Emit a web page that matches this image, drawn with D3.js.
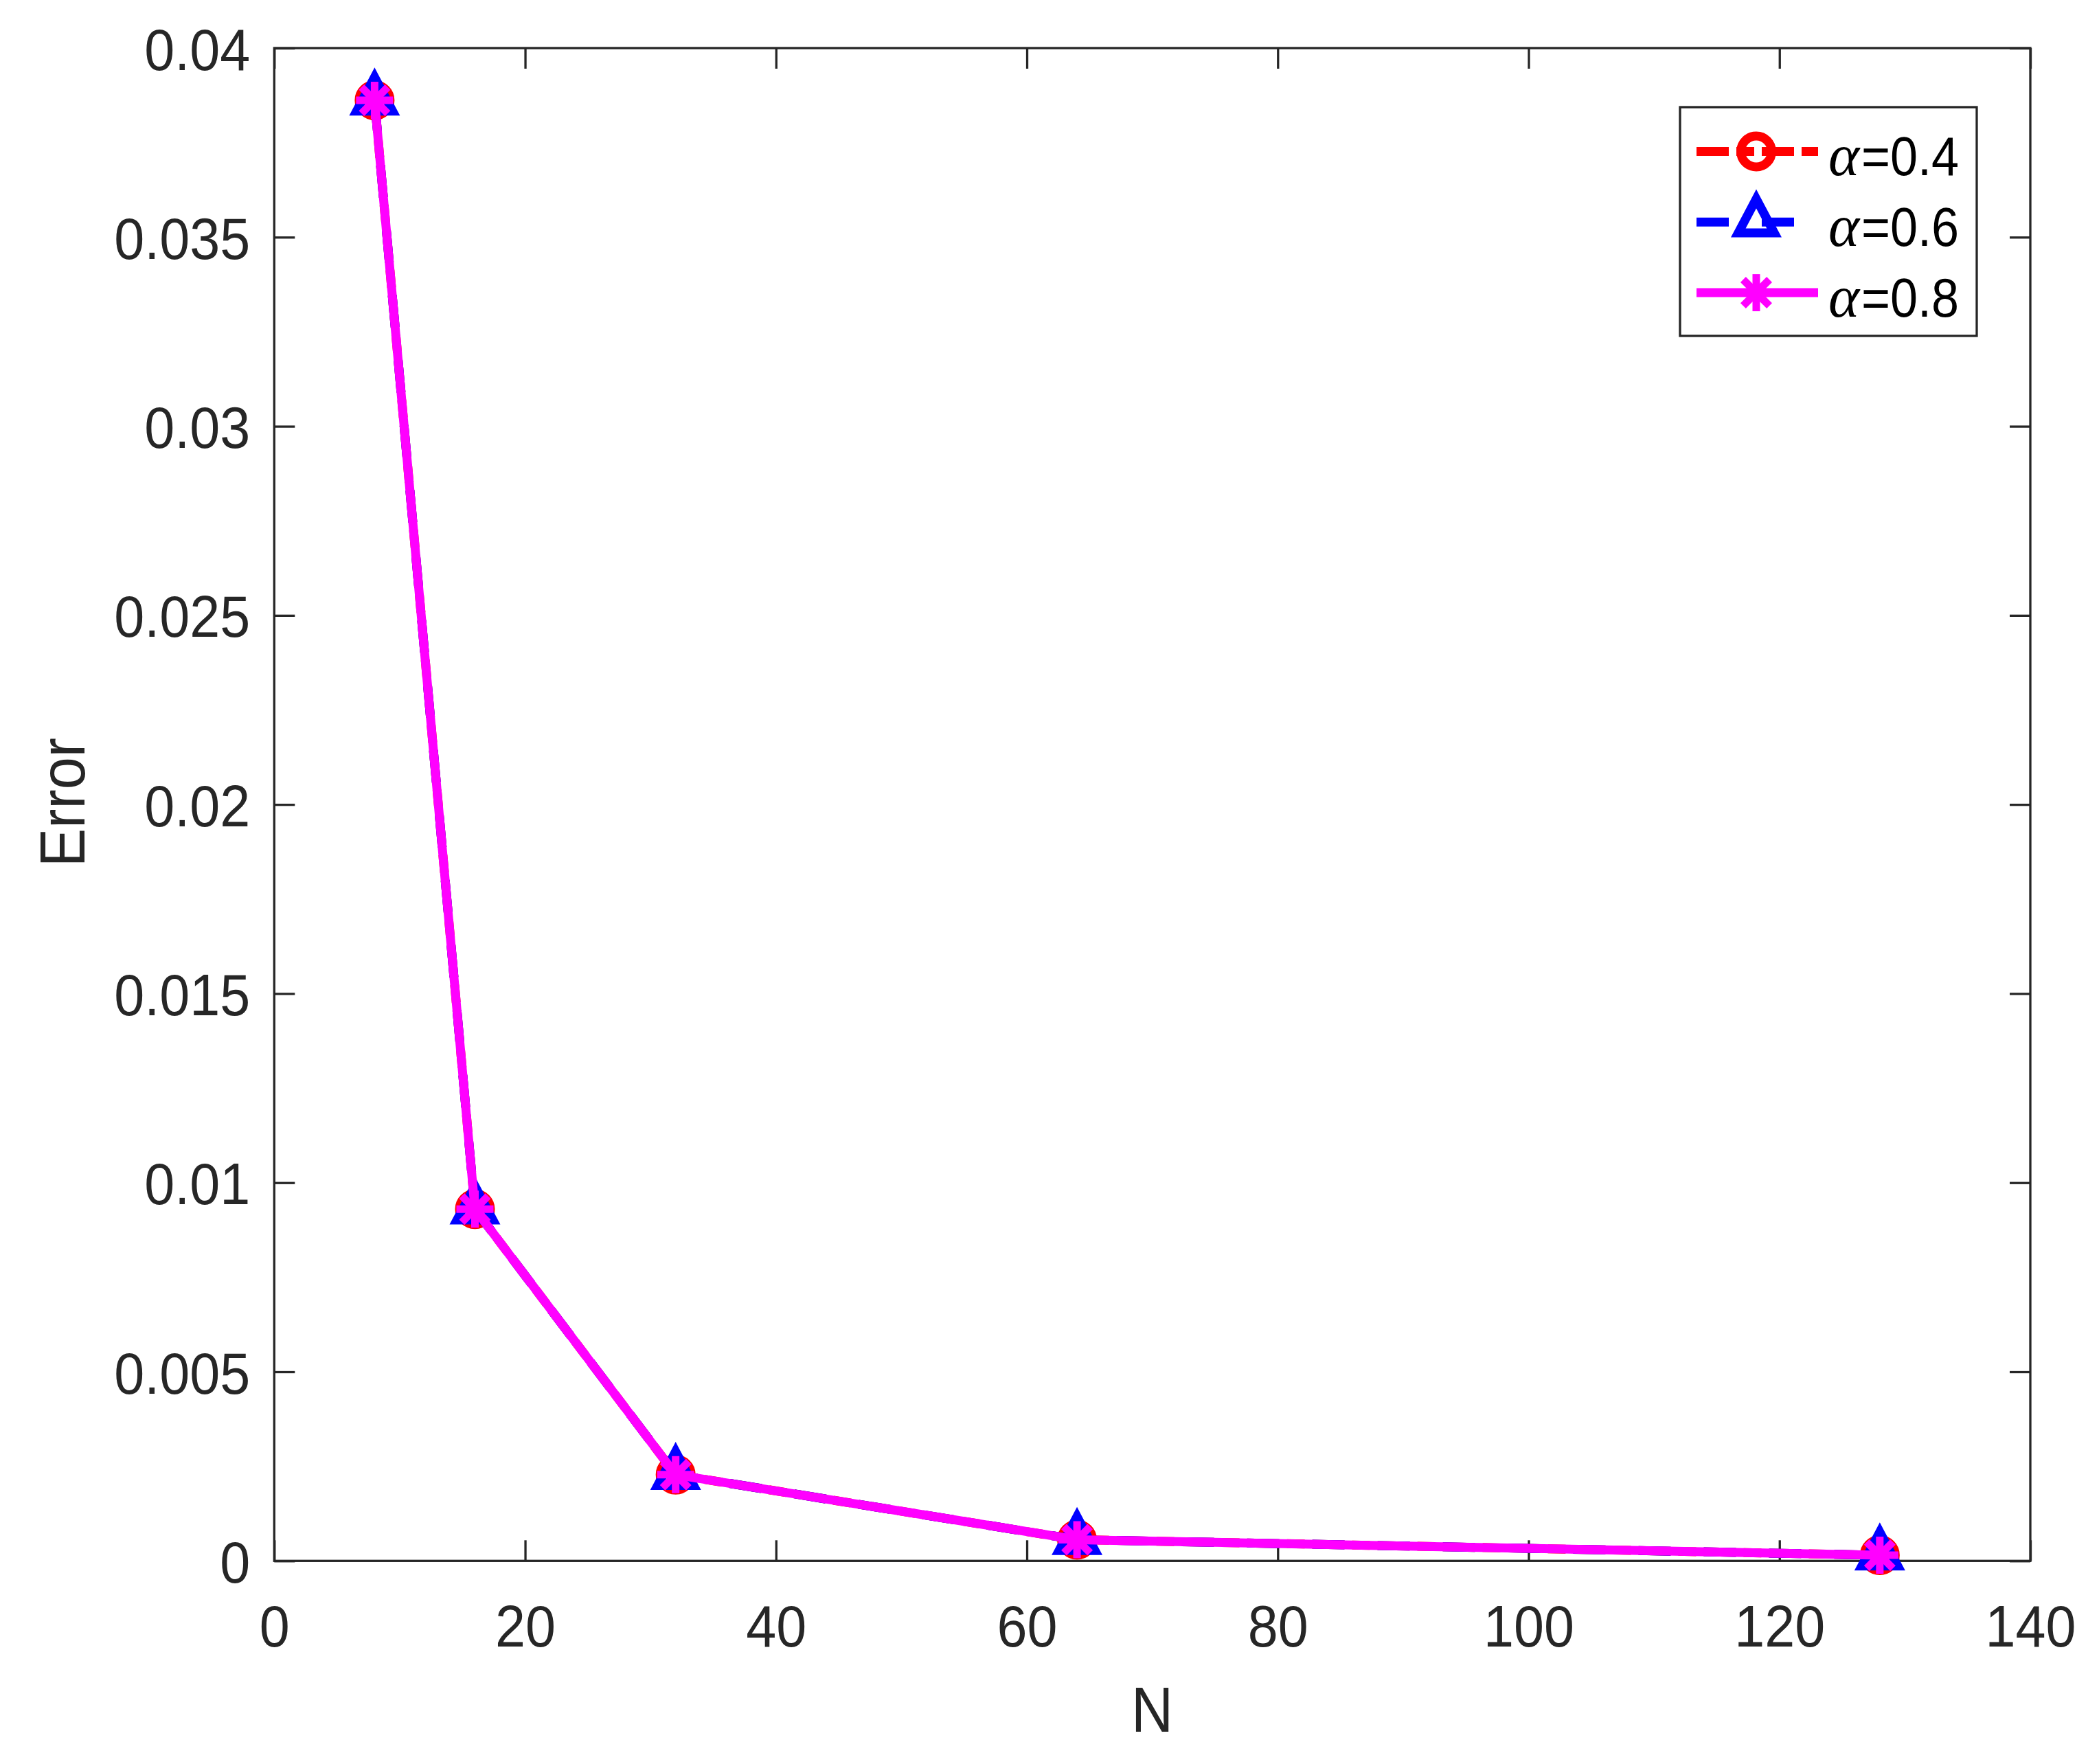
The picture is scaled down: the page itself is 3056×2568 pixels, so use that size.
<!DOCTYPE html>
<html><head><meta charset="utf-8">
<script src="https://cdn.jsdelivr.net/npm/d3@7/dist/d3.min.js"></script>
<style>body{margin:0;background:#fff}svg{display:block}</style>
</head><body>
<svg id="chart" width="3056" height="2568"></svg>
<script>
// ---- data ----
const nValues    = [8, 16, 32, 64, 128];
const errAlpha04 = [0.03862, 0.0093, 0.00228, 0.00056, 0.00015];
const errAlpha06 = [0.03862, 0.0093, 0.00228, 0.00056, 0.00015];
const errAlpha08 = [0.03862, 0.0093, 0.00228, 0.00056, 0.00015];
const seriesLabels = ["=0.4", "=0.6", "=0.8"];
const xTickValues = [0, 20, 40, 60, 80, 100, 120, 140];
const yTickValues = [0, 0.005, 0.01, 0.015, 0.02, 0.025, 0.03, 0.035, 0.04];
const yTickLabels = ["0", "0.005", "0.01", "0.015", "0.02", "0.025", "0.03", "0.035", "0.04"];
const xLabel = "N";
const yLabel = "Error";

// ---- styling ----
const axisColor = "#262626";
const styles = [
  {color: "#ff0000", dash: "47,11,26,11", marker: "circle"},
  {color: "#0000ff", dash: "47,48", marker: "triangle"},
  {color: "#ff00ff", dash: null, marker: "asterisk"}
];
const series = [errAlpha04, errAlpha06, errAlpha08].map((vals, i) => ({
  label: seriesLabels[i], values: vals, ...styles[i]
}));

const L = 399.3, R = 2956, T = 70, B = 2272.3;
const SX = 0.92; // horizontal compression to mimic narrower Helvetica
const svg = d3.select("#chart");
const x = d3.scaleLinear().domain([0, 140]).range([L, R]);
const y = d3.scaleLinear().domain([0, 0.04]).range([B, T]);

const fontSans = "'Liberation Sans', Arial, Helvetica, sans-serif";
const LW = 13;

// ---- axes ----
const gx = svg.append("g").attr("transform", `translate(0,${B})`)
  .call(d3.axisBottom(x).tickValues(xTickValues).tickSize(-30).tickSizeOuter(0).tickFormat(d3.format("d")));
const gxt = svg.append("g").attr("transform", `translate(0,${T})`)
  .call(d3.axisTop(x).tickValues(xTickValues).tickSize(-30).tickSizeOuter(0).tickFormat(""));
const gy = svg.append("g").attr("transform", `translate(${L},0)`)
  .call(d3.axisLeft(y).tickValues(yTickValues).tickSize(-30).tickSizeOuter(0)
    .tickFormat((d, i) => yTickLabels[i]));
const gyr = svg.append("g").attr("transform", `translate(${R},0)`)
  .call(d3.axisRight(y).tickValues(yTickValues).tickSize(-30).tickSizeOuter(0).tickFormat(""));

[gx, gxt, gy, gyr].forEach(g => {
  g.select(".domain").remove();
  g.selectAll(".tick line").attr("stroke", axisColor).attr("stroke-width", 3.3);
  g.selectAll("text").attr("fill", axisColor).attr("font-family", fontSans).attr("font-size", 86);
});
gx.selectAll(".tick text").attr("y", 125).attr("dy", "0").attr("transform", `scale(${SX},1)`);
gy.selectAll(".tick text").attr("x", -35 / SX).attr("dy", "0").attr("y", 31)
  .attr("transform", `scale(${SX},1)`);

svg.append("rect").attr("x", L).attr("y", T).attr("width", R - L).attr("height", B - T)
  .attr("fill", "none").attr("stroke", axisColor).attr("stroke-width", 3.3);

// axis labels
svg.append("text").attr("transform", `translate(${(L + R) / 2},2521) scale(${SX},1)`)
  .attr("text-anchor", "middle")
  .attr("font-family", fontSans).attr("font-size", 92).attr("fill", axisColor).text(xLabel);
svg.append("text").attr("transform", `translate(123,${(T + B) / 2 - 3}) rotate(-90) scale(${SX},1)`)
  .attr("text-anchor", "middle").attr("font-family", fontSans).attr("font-size", 92)
  .attr("fill", axisColor).text(yLabel);

// ---- markers ----
function drawMarker(g, type, color, cx, cy) {
  if (type === "circle") {
    g.append("circle").attr("cx", cx).attr("cy", cy).attr("r", 22.5)
      .attr("fill", "none").attr("stroke", color).attr("stroke-width", LW);
  } else if (type === "triangle") {
    const p = d3.path();
    p.moveTo(cx, cy - 33.8); p.lineTo(cx + 26.2, cy + 15.8); p.lineTo(cx - 26.2, cy + 15.8); p.closePath();
    g.append("path").attr("d", p.toString()).attr("fill", "none").attr("stroke", color)
      .attr("stroke-width", LW).attr("stroke-linejoin", "miter");
  } else {
    const r = 27;
    for (let k = 0; k < 4; k++) {
      const a = k * Math.PI / 4;
      g.append("line").attr("x1", cx - r * Math.cos(a)).attr("y1", cy - r * Math.sin(a))
        .attr("x2", cx + r * Math.cos(a)).attr("y2", cy + r * Math.sin(a))
        .attr("stroke", color).attr("stroke-width", 11).attr("stroke-linecap", "butt");
    }
  }
}

// ---- series ----
const line = d3.line().x((d, i) => x(nValues[i])).y(d => y(d));
series.forEach(s => {
  const g = svg.append("g");
  g.append("path").attr("d", line(s.values)).attr("fill", "none").attr("stroke", s.color)
    .attr("stroke-width", LW).attr("stroke-dasharray", s.dash).attr("stroke-linejoin", "miter");
  s.values.forEach((v, i) => drawMarker(g, s.marker, s.color, x(nValues[i]), y(v)));
});

// ---- legend ----
const lg = svg.append("g");
lg.append("rect").attr("x", 2446).attr("y", 156).attr("width", 432).attr("height", 333)
  .attr("fill", "#fff").attr("stroke", axisColor).attr("stroke-width", 3.3);
series.forEach((s, i) => {
  const cy = 220.5 + i * 102.8;
  lg.append("line").attr("x1", 2470).attr("x2", 2647).attr("y1", cy).attr("y2", cy)
    .attr("stroke", s.color).attr("stroke-width", LW).attr("stroke-dasharray", s.dash);
  drawMarker(lg, s.marker, s.color, 2557, cy);
  lg.append("text").attr("x", 2662).attr("y", cy + 34.5).attr("fill", "#000")
    .attr("font-size", 86).attr("font-family", "'Liberation Serif', 'Times New Roman', serif")
    .attr("font-style", "italic").text("α");
  lg.append("text").attr("transform", `translate(2710,${cy + 34.5}) scale(0.9,1)`)
    .attr("fill", "#000").attr("font-size", 80).attr("font-family", fontSans).text(s.label);
});
</script>
</body></html>
